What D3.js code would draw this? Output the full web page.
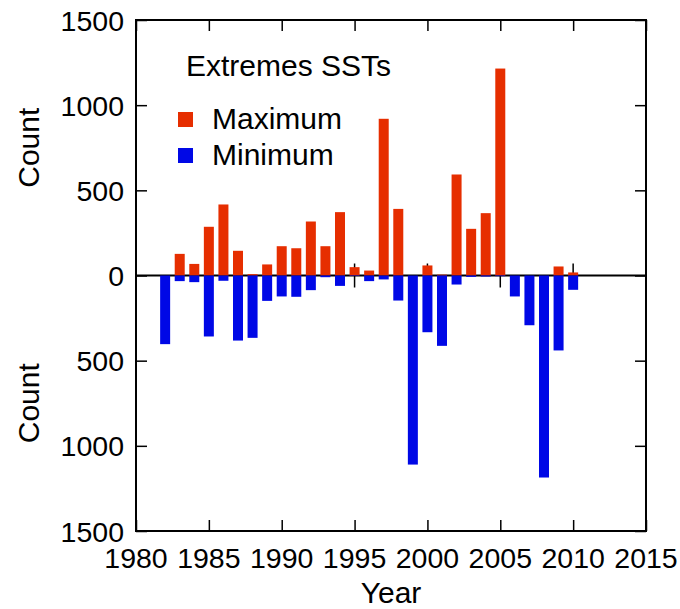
<!DOCTYPE html>
<html>
<head>
<meta charset="utf-8">
<script src="https://cdn.jsdelivr.net/npm/d3@7"></script>
<style>
  body { margin: 0; background: #fff; }
  svg { display: block; font-family: "Liberation Sans", Arial, sans-serif; }
</style>
</head>
<body>
<svg id="chart" width="680" height="609"></svg>
<script>
// data
const years = [1982, 1983, 1984, 1985, 1986, 1987, 1988, 1989, 1990, 1991, 1992, 1993, 1994, 1995, 1996,
  1997, 1998, 1999, 2000, 2001, 2002, 2003, 2004, 2005, 2006, 2007, 2008, 2009, 2010];
const maxCounts = [0, 127, 68, 286, 417, 145, 8, 65, 172, 160, 317, 172, 372, 49, 29,
  920, 391, 0, 59, 5, 593, 274, 366, 1215, 0, 0, 0, 53, 18];
const minCounts = [403, 33, 39, 358, 31, 382, 366, 149, 123, 125, 86, 10, 61, 3, 33,
  23, 147, 1110, 333, 413, 53, 8, 6, 4, 123, 292, 1186, 440, 84];
const xTicks = [1980, 1985, 1990, 1995, 2000, 2005, 2010, 2015];
const yTicks = [-1500, -1000, -500, 0, 500, 1000, 1500];

const red = "#e62e00", blue = "#0008e6";

function drawChart() {
  const svg = d3.select("#chart");
  const left = 136, right = 646, top = 20, bottom = 531;

  const x = d3.scaleLinear().domain([1980, 2015]).range([left, right]);
  const y = d3.scaleLinear().domain([-1500, 1500]).range([bottom, top]);
  const barW = 10;

  // zero line with ticks on both sides
  svg.append("line")
    .attr("x1", left).attr("x2", right)
    .attr("y1", y(0)).attr("y2", y(0))
    .attr("stroke", "#000").attr("stroke-width", 2);
  svg.append("g")
    .selectAll("line")
    .data(xTicks)
    .enter().append("line")
    .attr("x1", d => x(d)).attr("x2", d => x(d))
    .attr("y1", y(0) - 12).attr("y2", y(0) + 12)
    .attr("stroke", "#000").attr("stroke-width", 1.5);

  // bars: maximum up, minimum down
  svg.selectAll(".maxbar")
    .data(years.map((yr, i) => ({ yr: yr, v: maxCounts[i] })).filter(d => d.v > 0))
    .enter().append("rect")
    .attr("class", "maxbar")
    .attr("x", d => x(d.yr) - barW / 2)
    .attr("width", barW)
    .attr("y", d => y(d.v))
    .attr("height", d => y(0) - y(d.v))
    .attr("fill", red);

  svg.selectAll(".minbar")
    .data(years.map((yr, i) => ({ yr: yr, v: minCounts[i] })).filter(d => d.v > 0))
    .enter().append("rect")
    .attr("class", "minbar")
    .attr("x", d => x(d.yr) - barW / 2)
    .attr("width", barW)
    .attr("y", y(0))
    .attr("height", d => y(-d.v) - y(0))
    .attr("fill", blue);

  // axes, ticks pointing inward
  const fmt = d => Math.abs(d);
  svg.append("g")
    .attr("transform", "translate(" + left + ",0)")
    .call(d3.axisRight(y).tickValues(yTicks).tickSize(11).tickFormat(""));
  svg.append("g")
    .attr("transform", "translate(" + right + ",0)")
    .call(d3.axisLeft(y).tickValues(yTicks).tickSize(11).tickFormat(""));
  svg.append("g")
    .attr("transform", "translate(0," + top + ")")
    .call(d3.axisBottom(x).tickValues(xTicks).tickSize(11).tickFormat(""));
  svg.append("g")
    .attr("transform", "translate(0," + bottom + ")")
    .call(d3.axisTop(x).tickValues(xTicks).tickSize(11).tickFormat(""));
  svg.selectAll(".domain").remove();
  svg.selectAll(".tick line").attr("stroke", "#000").attr("stroke-width", 1.5);

  // frame
  svg.append("rect")
    .attr("x", left).attr("y", top)
    .attr("width", right - left).attr("height", bottom - top)
    .attr("fill", "none").attr("stroke", "#000").attr("stroke-width", 2);

  // tick labels
  svg.append("g").selectAll("text")
    .data(yTicks)
    .enter().append("text")
    .attr("x", left - 12)
    .attr("y", d => y(d) + 10.5)
    .attr("text-anchor", "end")
    .attr("font-size", 28.5)
    .text(fmt);
  svg.append("g").selectAll("text")
    .data(xTicks)
    .enter().append("text")
    .attr("x", d => x(d))
    .attr("y", 567.5)
    .attr("text-anchor", "middle")
    .attr("font-size", 28.5)
    .text(d => d);

  // axis titles
  svg.append("text")
    .attr("x", (left + right) / 2).attr("y", 603)
    .attr("text-anchor", "middle").attr("font-size", 30)
    .text("Year");
  [y(750), y(-750)].forEach(cy => {
    svg.append("text")
      .attr("transform", "translate(39," + cy + ") rotate(-90)")
      .attr("text-anchor", "middle").attr("font-size", 30)
      .text("Count");
  });

  // legend
  svg.append("text")
    .attr("x", 186).attr("y", 76)
    .attr("font-size", 30)
    .text("Extremes SSTs");
  const legend = [{ name: "Maximum", color: red, ty: 129 }, { name: "Minimum", color: blue, ty: 165 }];
  legend.forEach(l => {
    svg.append("rect")
      .attr("x", 178).attr("y", l.ty - 17)
      .attr("width", 15).attr("height", 15)
      .attr("fill", l.color);
    svg.append("text")
      .attr("x", 212).attr("y", l.ty)
      .attr("font-size", 30)
      .text(l.name);
  });
}

drawChart();
</script>
</body>
</html>
